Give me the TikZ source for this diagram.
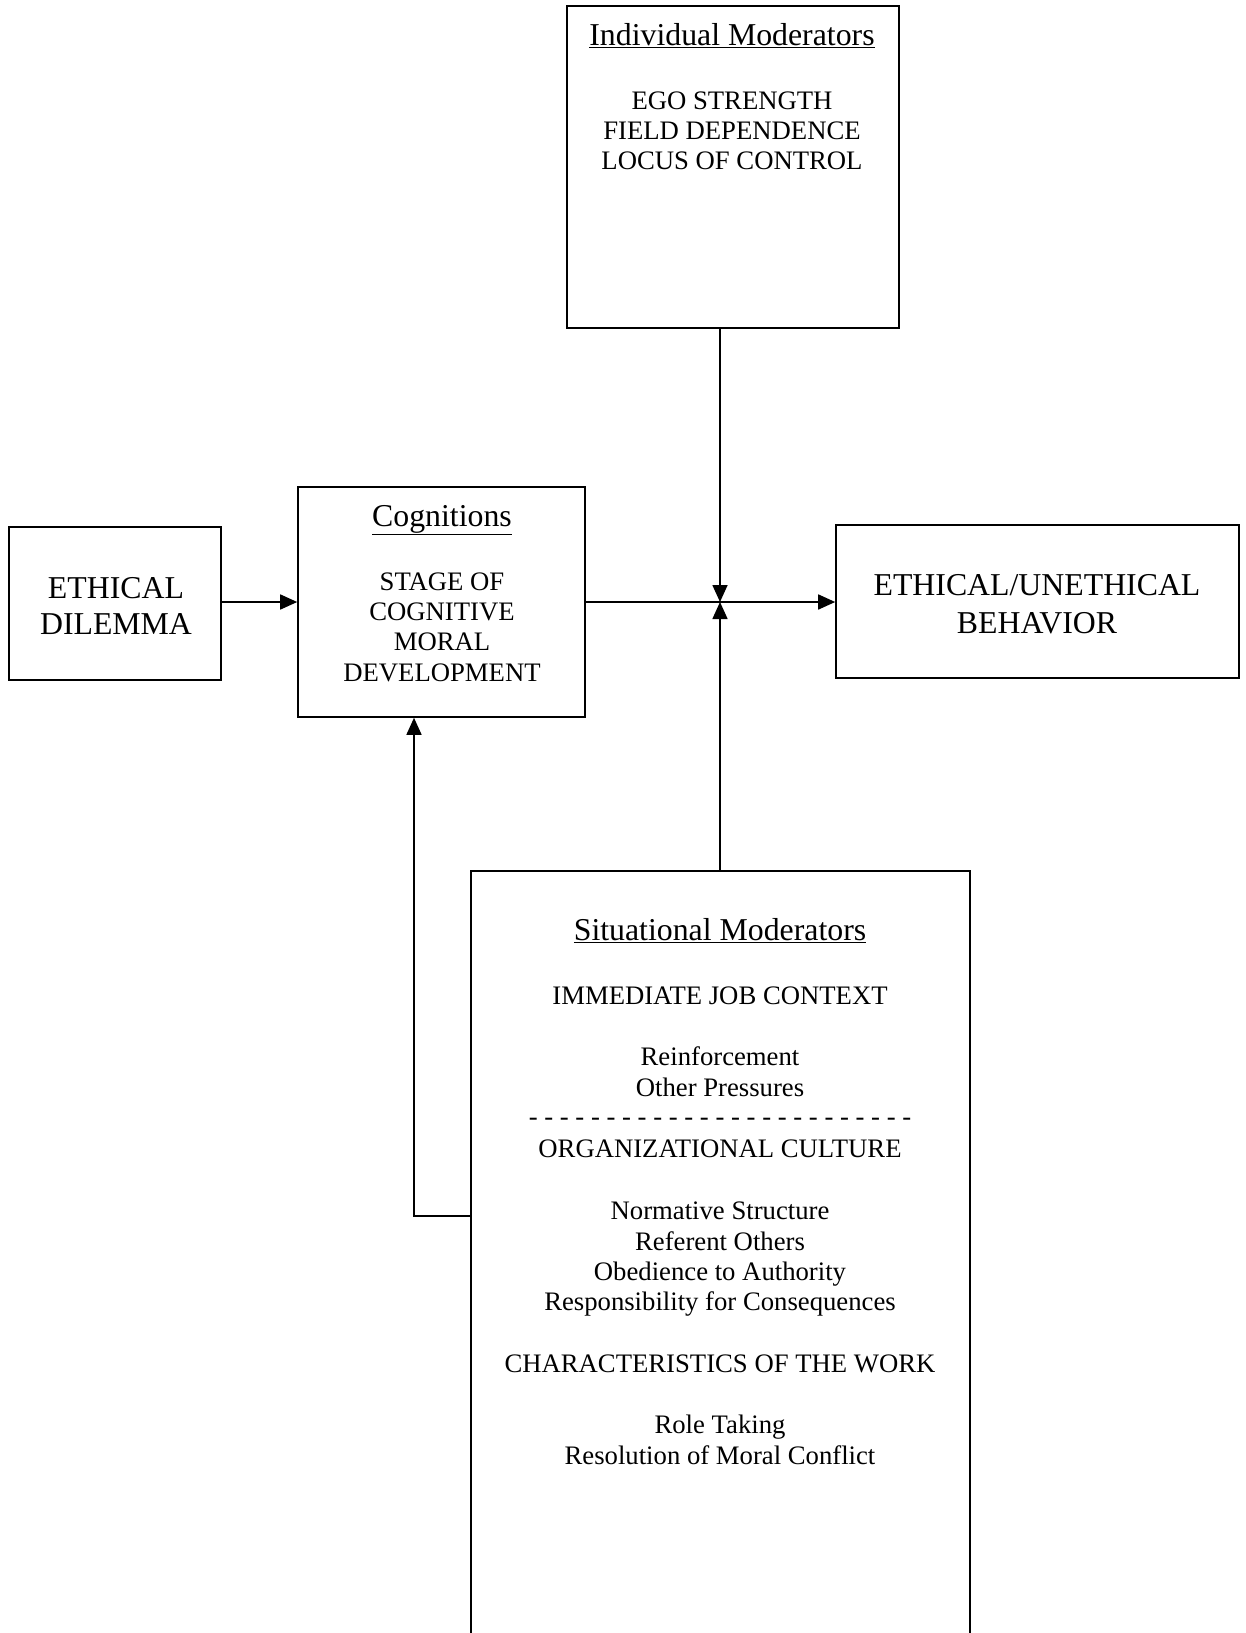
\documentclass[tikz,border=0pt]{standalone}
\usepackage{fontspec}
\setmainfont{Liberation Serif}
\usetikzlibrary{arrows.meta}
\tikzset{
  box/.style={draw, line width=1.6pt, rectangle, inner sep=0pt},
  txt/.style={anchor=base, inner sep=0pt, font=\fontsize{26.7}{30}\selectfont},
  big/.style={anchor=base, inner sep=0pt, font=\fontsize{31.8}{37}\selectfont},
  conn/.style={line width=1.6pt},
  arr/.style={conn, -{Triangle[length=17pt,width=15pt]}},
}
\begin{document}
\begin{tikzpicture}[x=1pt,y=-1pt]
\clip (0,0) rectangle (1245,1633);
\fill[white] (0,0) rectangle (1245,1633);

% boxes
\node[box, minimum width=332, minimum height=322] (ind) at (733,167) {};
\node[box, minimum width=212, minimum height=153] (dil) at (115,603.5) {};
\node[box, minimum width=287, minimum height=230] (cog) at (441.5,602) {};
\node[box, minimum width=403, minimum height=153] (beh) at (1037.5,601.5) {};
\node[box, minimum width=499, minimum height=800] (sit) at (720.5,1271) {};

% individual moderators
\node[big] (indt) at (732,45) {\underline{Individual Moderators}};
\node[txt] (ind1) at (732,109.5) {EGO STRENGTH};
\node[txt] (ind2) at (732,139.5) {FIELD DEPENDENCE};
\node[txt] (ind3) at (732,169.5) {LOCUS OF CONTROL};

% ethical dilemma
\node[big] (dil1) at (116,598) {ETHICAL};
\node[big] (dil2) at (116,634) {DILEMMA};

% cognitions
\node[big] (cogt) at (442,526) {\underline{Cognitions}};
\node[txt] (cog1) at (442,590) {STAGE OF};
\node[txt] (cog2) at (442,620) {COGNITIVE};
\node[txt] (cog3) at (442,650.5) {MORAL};
\node[txt] (cog4) at (442,681) {DEVELOPMENT};

% behavior
\node[big] (beh1) at (1037,595) {ETHICAL/UNETHICAL};
\node[big] (beh2) at (1037,633) {BEHAVIOR};

% situational moderators
\node[big] (sitt) at (720,940) {\underline{Situational Moderators}};
\node[txt] (sit1) at (720,1004.5) {IMMEDIATE JOB CONTEXT};
\node[txt] (sit2) at (720,1065.5) {Reinforcement};
\node[txt] (sit3) at (720,1096) {Other Pressures};
\node[txt] (sit4) at (720,1125) {- - - - - - - - - - - - - - - - - - - - - - - - -};
\node[txt] (sit5) at (720,1157.5) {ORGANIZATIONAL CULTURE};
\node[txt] (sit6) at (720,1219.5) {Normative Structure};
\node[txt] (sit7) at (720,1250) {Referent Others};
\node[txt] (sit8) at (720,1280.5) {Obedience to Authority};
\node[txt] (sit9) at (720,1310.5) {Responsibility for Consequences};
\node[txt] (sit10) at (720,1372.5) {CHARACTERISTICS OF THE WORK};
\node[txt] (sit11) at (720,1433.5) {Role Taking};
\node[txt] (sit12) at (720,1464.5) {Resolution of Moral Conflict};

% connectors
\coordinate (j) at (720,602);
\coordinate (fb) at (414,1216);
\draw[arr] (dil.east |- j) -- (cog.west |- j);
\draw[arr] (cog.east |- j) -- (beh.west |- j);
\draw[arr] (ind.south -| j) -- (j);
\draw[arr] (sit.north -| j) -- (j);
\draw[arr] (sit.west |- fb) -- (fb) -- (cog.south -| fb);
\end{tikzpicture}
\end{document}
